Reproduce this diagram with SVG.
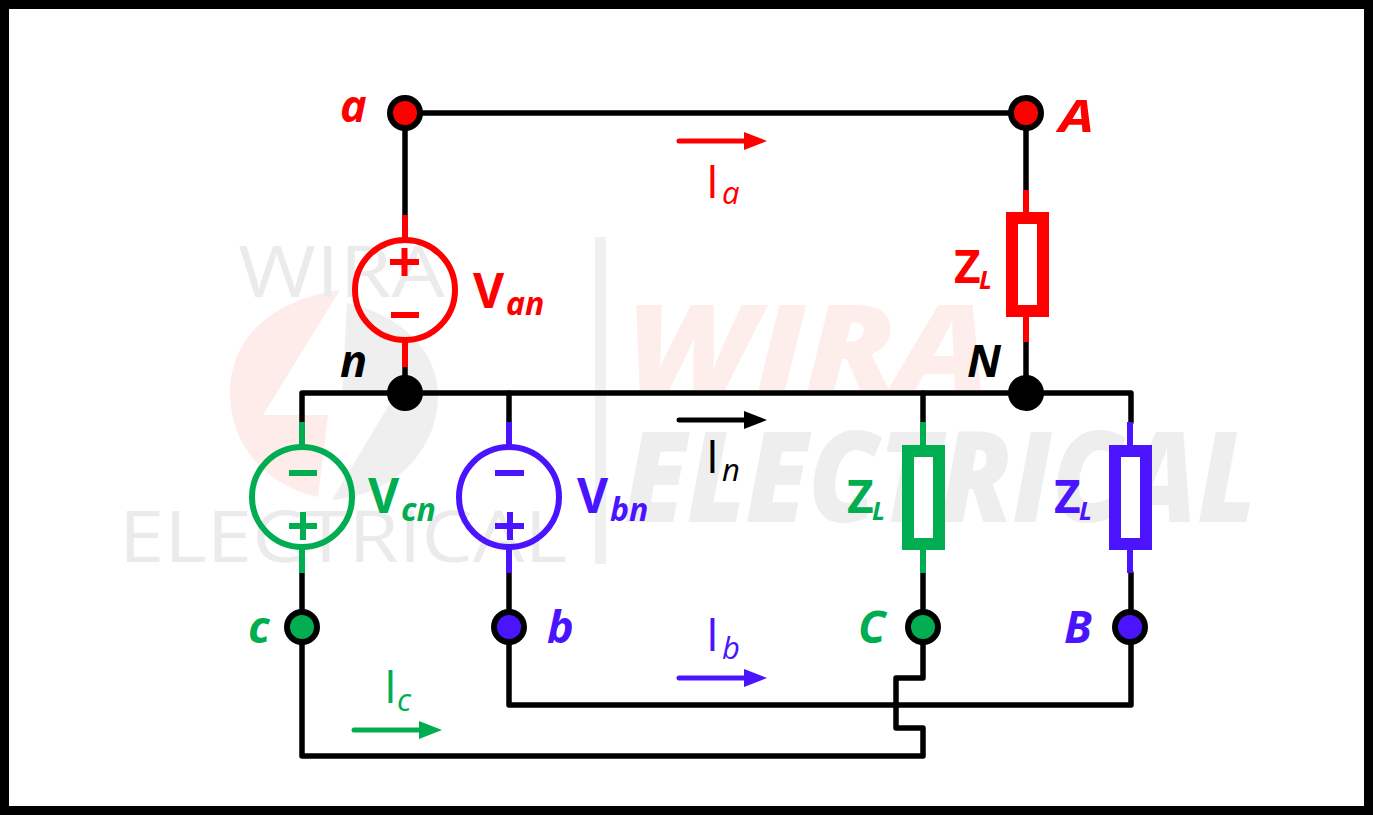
<svg xmlns="http://www.w3.org/2000/svg" width="1373" height="815" viewBox="0 0 1373 815">
<defs>
<style>
text{font-family:"Open Sans","Liberation Sans",sans-serif}
.w{fill:none;stroke:#000;stroke-width:5.5;stroke-linecap:round;stroke-linejoin:round}
.dot{stroke:#000;stroke-width:6}
.red{fill:#ff0000}.grn{fill:#00ad50}.pur{fill:#4a14ff}.blk{fill:#000}
.sred{stroke:#ff0000}.sgrn{stroke:#00ad50}.spur{stroke:#4a14ff}.sblk{stroke:#000}
.src{fill:none;stroke-width:6}
.stub{fill:none;stroke-width:6}
.sign{fill:none;stroke-width:6}
.box{fill:#fff;stroke-width:12}
.arr{fill:none;stroke-width:5;stroke-linecap:round}
.nl{font-weight:700;font-style:italic;font-size:45px}
.vl{font-weight:700;font-size:48px}
.vs{font-weight:700;font-style:italic;font-size:32px}
.zl{font-weight:700;font-size:46px}
.zs{font-weight:700;font-style:italic;font-size:25px}
.il{font-weight:400;font-size:46px}
.is{font-weight:400;font-style:italic;font-size:31px}
</style>
</defs>
<rect width="1373" height="815" fill="#fff"/>
<g id="watermark">
<path d="M340 290C270 300 230 340 230 392C230 445 265 485 318 497L328 415L263 415Z" fill="#fdecea"/>
<path d="M347 303C400 315 438 350 438 395C438 450 395 495 332 500L395 395L342 395Z" fill="#efefef"/>
<text x="238" y="297" font-size="72" textLength="207" lengthAdjust="spacingAndGlyphs" fill="#ebebeb">WIRA</text>
<text x="119" y="562" font-size="72" textLength="448" lengthAdjust="spacingAndGlyphs" fill="#ebebeb">ELECTRICAL</text>
<rect x="595" y="237" width="11" height="327" fill="#f0f0f0"/>
<text x="626" y="390" font-size="119" font-weight="800" font-style="italic" textLength="364" lengthAdjust="spacingAndGlyphs" fill="#fdeeec">WIRA</text>
<text x="624" y="522" font-size="126" font-weight="800" font-style="italic" textLength="632" lengthAdjust="spacingAndGlyphs" fill="#eeeeee">ELECTRICAL</text>
</g>
<rect id="frame" x="4.500" y="4.500" width="1364" height="806" fill="none" stroke="#000" stroke-width="9"/>
<g id="connectors">
<path class="w" d="M405 113H1026"/>
<path class="w" d="M405 113V216"/>
<path class="w" d="M1026 113V192"/>
<path class="w" d="M1026 342V393"/>
<path class="w" d="M405 367V393"/>
<path class="w" d="M302 422V393H1131V422"/>
<path class="w" d="M509 393V422"/>
<path class="w" d="M923 393V422"/>
<path class="w" d="M302 573V756H923V728H896V678H923V573"/>
<path class="w" d="M509 573V705H1131V573"/>
</g>
<g id="arrows">
<path class="arr sred" d="M679 141H748"/><path class="red" d="M744 132L767 141L744 150Z"/>
<path class="arr sblk" d="M679 420H748"/><path class="blk" d="M744 411L767 420L744 429Z"/>
<path class="arr spur" d="M679 678H748"/><path class="pur" d="M744 669L767 678L744 687Z"/>
<path class="arr sgrn" d="M354 730H423"/><path class="grn" d="M419 721L442 730L419 739Z"/>
</g>
<g id="node-a"><circle class="dot red" cx="405" cy="113" r="15"/><text class="nl red" x="340" y="122">a</text></g>
<g id="node-A"><circle class="dot red" cx="1026" cy="113" r="15"/><text class="nl red" x="1059" y="132" textLength="35" lengthAdjust="spacingAndGlyphs">A</text></g>
<g id="node-n"><circle class="dot blk" cx="405" cy="393" r="15"/><text class="nl blk" x="340" y="377">n</text></g>
<g id="node-N"><circle class="dot blk" cx="1026" cy="393" r="15"/><text class="nl blk" x="967" y="377">N</text></g>
<g id="node-c"><circle class="dot grn" cx="302" cy="627" r="15"/><text class="nl grn" x="248" y="643">c</text></g>
<g id="node-b"><circle class="dot pur" cx="509" cy="627" r="15"/><text class="nl pur" x="547" y="643">b</text></g>
<g id="node-C"><circle class="dot grn" cx="923" cy="627" r="15"/><text class="nl grn" x="858" y="643">C</text></g>
<g id="node-B"><circle class="dot pur" cx="1130" cy="627" r="15"/><text class="nl pur" x="1064" y="643">B</text></g>
<g id="source-an">
<path class="stub sred" d="M405 215V240M405 340V367"/>
<circle class="src sred" cx="405" cy="290" r="50"/>
<path class="sign sred" d="M390 262H419M404.500 248V276M391 315H419"/>
<text class="vl red" x="473" y="308">V</text><text class="vs red" x="506" y="315">an</text>
</g>
<g id="source-cn">
<path class="stub sgrn" d="M302 422V447M302 547V573"/>
<circle class="src sgrn" cx="302" cy="497" r="50"/>
<path class="sign sgrn" d="M289 473H317M289 526H317M303 512V540"/>
<text class="vl grn" x="368" y="513">V</text><text class="vs grn" x="401" y="521">cn</text>
</g>
<g id="source-bn">
<path class="stub spur" d="M509 422V447M509 547V573"/>
<circle class="src spur" cx="509" cy="497" r="50"/>
<path class="sign spur" d="M495 473H524M495 526H524M510 512V540"/>
<text class="vl pur" x="577" y="513">V</text><text class="vs pur" x="610" y="521">bn</text>
</g>
<g id="load-a">
<path class="stub sred" d="M1026 190V212M1026 317V342"/>
<rect class="box sred" x="1012" y="218" width="31" height="93"/>
<text class="zl red" x="954" y="283">Z</text><text class="zs red" x="979" y="289">L</text>
</g>
<g id="load-c">
<path class="stub sgrn" d="M923 422V445M923 550V573"/>
<rect class="box sgrn" x="908" y="451" width="31" height="93"/>
<text class="zl grn" x="847" y="513">Z</text><text class="zs grn" x="872" y="520">L</text>
</g>
<g id="load-b">
<path class="stub spur" d="M1130 422V445M1130 550V573"/>
<rect class="box spur" x="1115" y="451" width="31" height="93"/>
<text class="zl pur" x="1054" y="513">Z</text><text class="zs pur" x="1079" y="520">L</text>
</g>
<g id="label-Ia"><text class="il red" x="706" y="198">I</text><text class="is red" x="722" y="204">a</text></g>
<g id="label-In"><text class="il blk" x="706" y="473">I</text><text class="is blk" x="722" y="481">n</text></g>
<g id="label-Ib"><text class="il pur" x="706" y="651">I</text><text class="is pur" x="722" y="659">b</text></g>
<g id="label-Ic"><text class="il grn" x="384" y="703">I</text><text class="is grn" x="397" y="711">c</text></g>
</svg>
